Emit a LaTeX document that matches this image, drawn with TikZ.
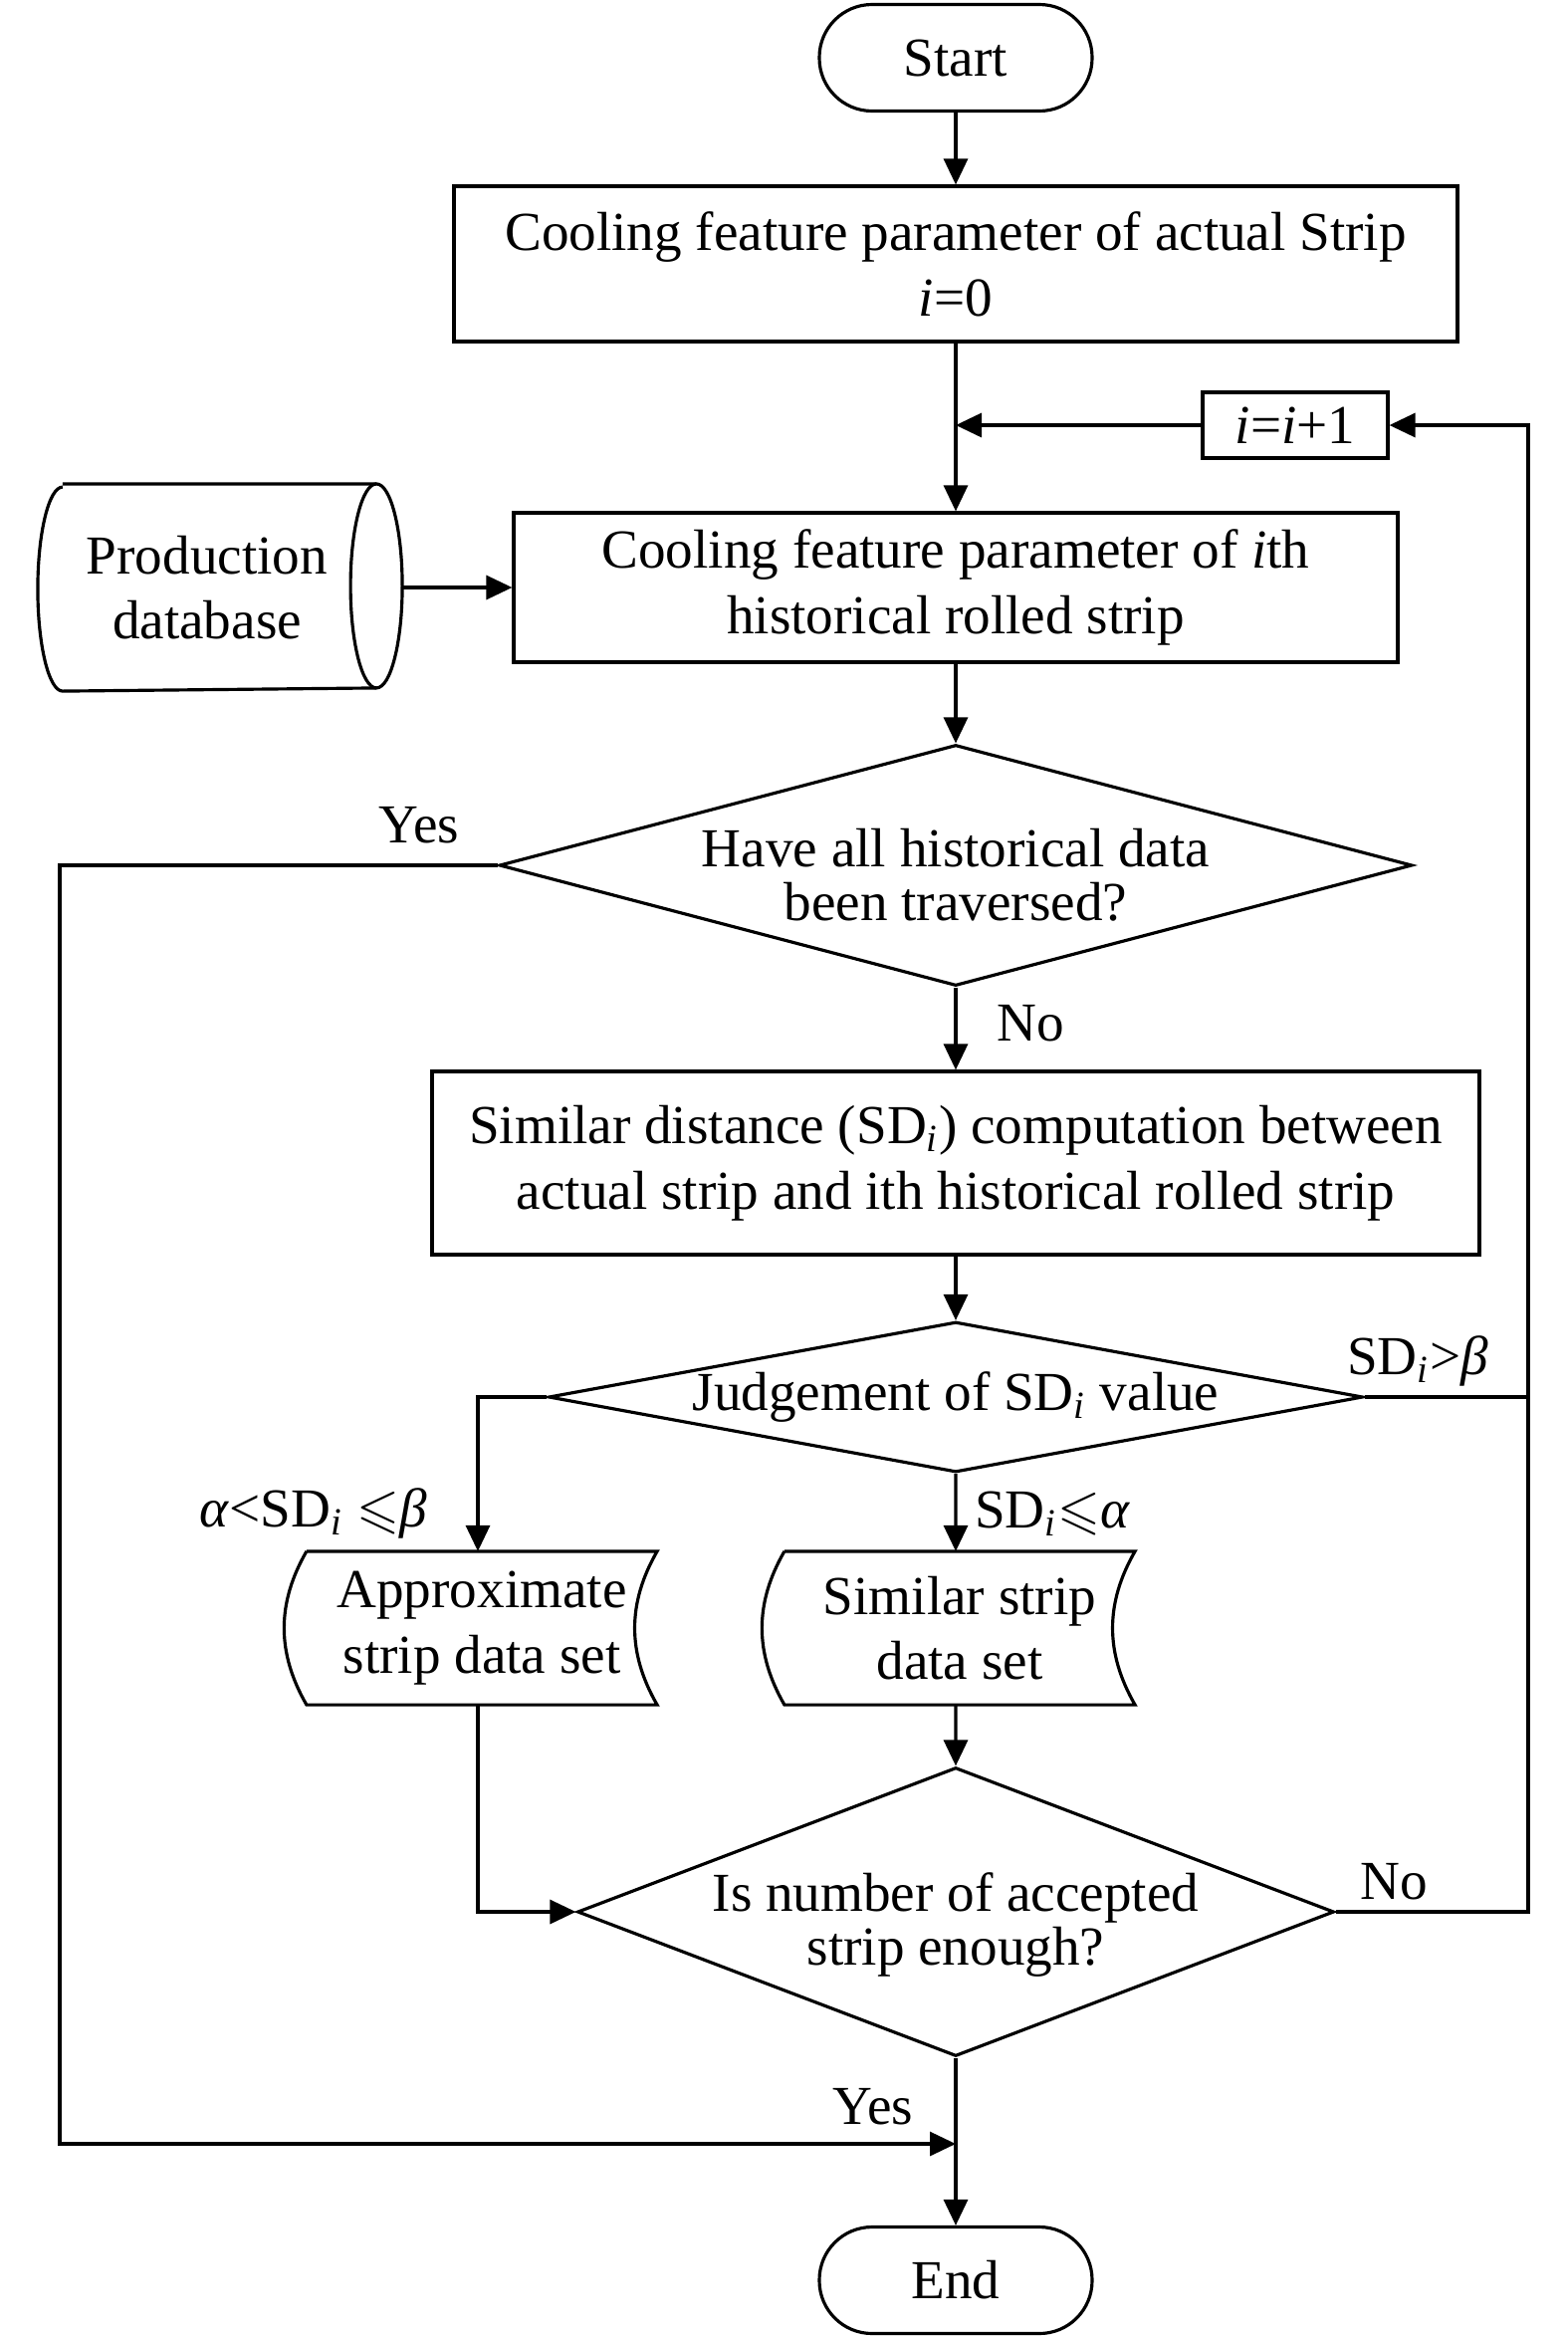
\documentclass[tikz,border=0pt]{standalone}
\usepackage{fontspec}
\usepackage{amssymb}
\setmainfont{Liberation Serif}
\usetikzlibrary{shapes.geometric, arrows.meta}

\begin{document}
\begin{tikzpicture}[x=0.1mm, y=-0.1mm, line width=0.9pt,
    font=\fontsize{15.7}{18.7}\selectfont,
    >={Triangle[length=2.6mm, width=2.4mm]},
    term/.style={draw, rounded corners=5.3mm, minimum width=27.4mm, minimum height=10.7mm, inner sep=0},
    proc/.style={draw, align=center, inner sep=0},
    dec/.style={draw, diamond, align=center, inner sep=-2.5mm, font=\fontsize{15.7}{15.4}\selectfont},
    store/.style={align=center, minimum width=34.9mm, minimum height=15.1mm, inner sep=0},
    lbl/.style={inner sep=0}]

  \useasboundingbox (0,0) rectangle (1575,2350);

  \node[term] (start) at (960,58) {Start};
  \node[proc, minimum width=100.8mm, minimum height=15.6mm] (feat) at (960,265) {Cooling feature parameter of actual Strip\\\textit{i}=0};
  \node[proc, minimum width=18.6mm, minimum height=6.6mm] (inc) at (1301,427) {\textit{i}=\textit{i}+1};
  \node[proc, minimum width=88.8mm, minimum height=15mm] (hist) at (960,590) {Cooling feature parameter of \textit{i}th\\historical rolled strip};
  \node[align=center, minimum width=33.7mm, minimum height=20.5mm, inner sep=0] (db) at (208,590) {Production\\database};
  \node[dec, minimum width=91.7mm, minimum height=24.2mm, shape aspect=3.79] (trav) at (960,869) {\rule{0pt}{5.8mm}Have all historical data\\been traversed?};
  \node[proc, minimum width=105.2mm, minimum height=18.4mm] (dist) at (960,1168) {Similar distance (SD\textsubscript{\textit{i}}) computation between\\actual strip and ith historical rolled strip};
  \node[dec, minimum width=81.8mm, minimum height=15.1mm, shape aspect=5.42] (judge) at (960,1403) {Judgement of SD\textsubscript{\textit{i}} value};
  \node[store] (appr) at (484,1635) {Approximate\\strip data set};
  \node[store] (simi) at (964,1635) {Similar strip\\data set};
  \node[dec, minimum width=76mm, minimum height=29mm, shape aspect=2.62] (enough) at (960,1920) {\rule{0pt}{6.5mm}Is number of accepted\\strip enough?};
  \node[term] (end) at (960,2290) {End};

  % database and data set outlines
  \draw ([xshift=2.5mm]db.north west) -- (db.north east)
    arc[start angle=90, end angle=-90, x radius=2.6mm, y radius=10.25mm]
    -- ([xshift=2.5mm]db.south west)
    arc[start angle=-90, end angle=-270, x radius=2.5mm, y radius=10.25mm];
  \draw (db.north east) arc[start angle=90, end angle=270, x radius=2.6mm, y radius=10.25mm];
  \foreach \n in {appr, simi}
    \draw (\n.north west) -- (\n.north east) to[bend right=30] (\n.south east)
      -- (\n.south west) to[bend left=30] (\n.north west);

  \coordinate (jloop) at (960,427);
  \coordinate (rloop) at (1535,427);
  \coordinate (rjudge) at (1535,1403);
  \coordinate (lyes) at (60,2153);
  \coordinate (jend) at (960,2153);

  % main flow
  \draw[->] (start) -- (feat);
  \draw[->] (feat) -- (hist);
  \draw[->] (inc) -- (jloop);
  \draw[->] ([xshift=2.6mm]db.east) -- (hist.west);
  \draw[->] (hist) -- (trav);
  \draw[->] (trav) -- (dist);
  \draw[->] (dist) -- (judge);
  \draw[->] (judge.west) -| ([xshift=-0.4mm]appr.north);
  \draw[->] (judge.south) -- ([xshift=-0.4mm]simi.north);
  \draw (judge.east) -- (rjudge);
  \draw[->] ([xshift=-0.4mm]appr.south) |- (enough.west);
  \draw[->] ([xshift=-0.4mm]simi.south) -- (enough.north);
  \draw[->] (enough.east) -| (rloop) -- (inc.east);
  \draw[->] (trav.west) -| (lyes) -- (jend);
  \draw[->] (enough) -- (end);

  % labels
  \node[lbl] (yes1) at (421,829) {Yes};
  \node[lbl] (no1) at (1035,1028) {No};
  \node[lbl] (gt) at (1424,1367) {SD\textsubscript{\textit{i}}>\textit{β}};
  \node[lbl] (mid) at (315,1520) {\textit{α}<SD\textsubscript{\textit{i}} $\leqslant$\textit{β}};
  \node[lbl] (le) at (1057,1520) {SD\textsubscript{\textit{i}}$\leqslant$\textit{α}};
  \node[lbl] (no2) at (1400,1890) {No};
  \node[lbl] (yes2) at (877,2116) {Yes};
\end{tikzpicture}
\end{document}
